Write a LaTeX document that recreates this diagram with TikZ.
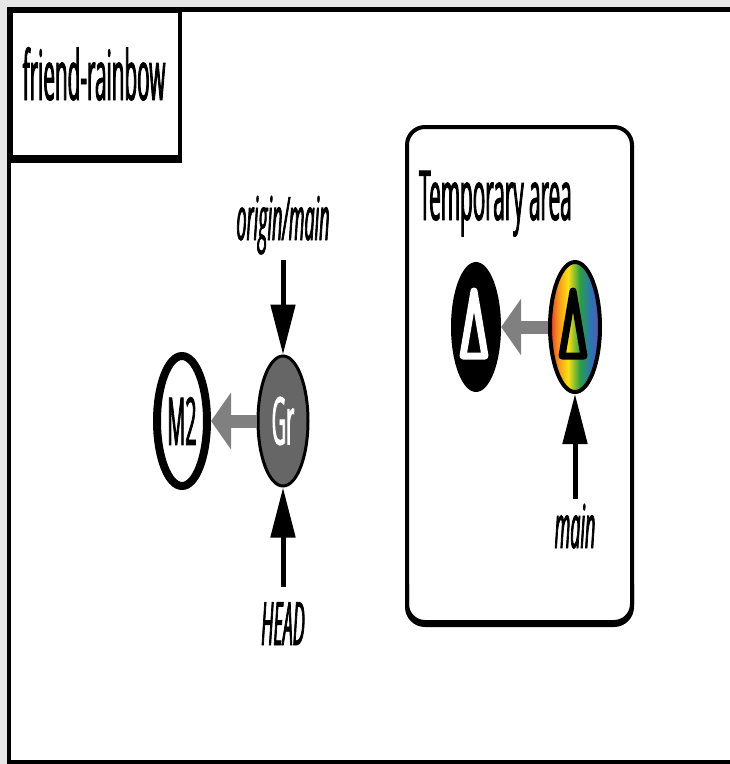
\documentclass[tikz,border=0pt]{standalone}
\usepackage{fontspec}
\setsansfont{Open Sans}[FakeStretch=0.3, FakeBold=1.2]
\usetikzlibrary{arrows.meta, positioning, shapes.geometric}
\definecolor{cgrey}{HTML}{808080}
\definecolor{cdark}{HTML}{666666}
\definecolor{cbg}{HTML}{E6E6E6}
\definecolor{rbred}{HTML}{E63B2E}
\definecolor{rborange}{HTML}{F7941D}
\definecolor{rbyellow}{HTML}{F9E116}
\definecolor{rbgreen}{HTML}{2A9E45}
\definecolor{rbblue}{HTML}{2C73B8}
\definecolor{rbpurple}{HTML}{6E4C9E}
\pgfdeclarehorizontalshading{rainbow}{100bp}{color(0bp)=(rbred); color(25bp)=(rbred); color(33bp)=(rborange); color(43bp)=(rbyellow); color(55bp)=(rbgreen); color(66bp)=(rbblue); color(75bp)=(rbpurple); color(100bp)=(rbpurple)}
\tikzset{
  every picture/.style={font=\sffamily, x=1pt, y=-1pt},
  frame/.style={draw=black, fill=white, line width=4pt},
  areabox/.style={draw=black, rounded corners=18pt, line width=4pt, inner sep=0pt},
  big/.style={font=\sffamily\fontsize{69}{72}\selectfont, inner sep=0pt},
  commit/.style={ellipse, minimum width=50pt, minimum height=130pt, inner sep=0pt, font=\sffamily\fontsize{66}{66}\selectfont},
  ref/.style={font=\sffamily\itshape\fontsize{60}{60}\selectfont, inner sep=5pt},
  ptr/.style={-{Triangle[length=50pt, width=24pt]}, line width=5pt},
  link/.style={-{Triangle[length=20pt, width=56pt]}, line width=13pt, draw=cgrey},
  tri/.style={line width=7pt, line join=round},
}

\begin{document}
\begin{tikzpicture}
  \fill[cbg] (0,0) rectangle (730,764);
  \useasboundingbox (0,0) rectangle (730,764);
  \draw[frame] (9,9) rectangle (745,762);
  \draw[line width=5pt] (9,9) -- (745,9);
  \node[frame, anchor=north west, minimum width=169pt, minimum height=146pt, inner sep=0pt] (titlebox) at (9,9) {};
  \draw[line width=4pt] ([yshift=-2pt]titlebox.south west) -- ([yshift=-2pt]titlebox.south east);
  \node[big, anchor=base] (title) at (94,100) {friend-rainbow};

  \node[commit, draw=black, line width=8pt, fill=white] (m2) at (182,421) {M2};
  \node[commit, draw=black, line width=3pt, fill=cdark, text=white] (gr) at (283,421) {Gr};
  \draw[link] (gr) -- (m2);
  \node[ref, anchor=base] (origin) at (283,240) {origin/main};
  \node[ref, anchor=base] (head) at (283,645) {HEAD};
  \draw[ptr] (origin.south) -- (gr.north);
  \draw[ptr] ([yshift=10pt]head.north) -- (gr.south);

  \node[areabox, minimum width=225pt, minimum height=495pt] (area) at (519.5,374.5) {};
  \draw[areabox] ([shift={(2pt,40pt)}]area.south west) |- ([yshift=-1pt]area.south) -| ([shift={(-2pt,40pt)}]area.south east);
  \node[big, anchor=base west] (arealabel) at (419,220) {Temporary area};
  \node[commit, fill=black] (tmpa) at (476,327) {};
  \node[commit, draw=black, line width=4pt, shading=rainbow] (tmpb) at (575,327) {};
  \draw[tri, white] ([shift={(-2,-36)}]tmpa.center) -- ([shift={(-13,29)}]tmpa.center) -- ([shift={(9,29)}]tmpa.center) -- cycle;
  \draw[tri, black] ([shift={(-2,-36)}]tmpb.center) -- ([shift={(-13,29)}]tmpb.center) -- ([shift={(9,29)}]tmpb.center) -- cycle;
  \draw[link] (tmpb) -- (tmpa);
  \node[ref, anchor=base] (main) at (575,548) {main};
  \draw[ptr] (main.north) -- (tmpb.south);
\end{tikzpicture}
\end{document}
